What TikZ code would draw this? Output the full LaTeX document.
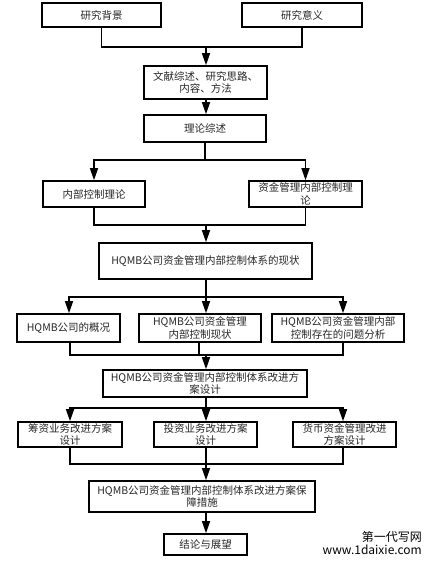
\documentclass[tikz,border=0pt]{standalone}
\usepackage{fontspec}
\setmainfont{Noto Sans CJK SC}
\usetikzlibrary{positioning, arrows.meta}

\begin{document}
\begin{tikzpicture}[x=1pt, y=-1pt,
            box/.style={draw=black, line width=1.6pt, rectangle, align=center, inner sep=1pt, font=\fontsize{10.5}{12.5}\selectfont, text=black!85},
            edge/.style={line width=1.4pt},
            arr/.style={edge, -{Triangle[length=12pt, width=8pt]}},
            wmark/.style={font=\fontsize{12}{13}\selectfont, anchor=east, inner sep=0pt}
        ]
        \useasboundingbox (0,0) rectangle (432,564);

        % Kästen
        \node[box, minimum width=119pt, minimum height=24pt] (bg) at (101.5,15) {研究背景};
        \node[box, minimum width=120pt, minimum height=24pt] (yy) at (302,15) {研究意义};
        \node[box, minimum width=123pt, minimum height=33pt] (wx) at (205.5,82.5) {文献综述、研究思路、\\内容、方法};
        \node[box, minimum width=122pt, minimum height=27pt] (ll) at (205,128.5) {理论综述};
        \node[box, minimum width=102pt, minimum height=26pt] (nk) at (94,194) {内部控制理论};
        \node[box, minimum width=113pt, minimum height=26pt] (zj) at (305.5,194) {资金管理内部控制理\\论};
        \node[box, minimum width=213pt, minimum height=36pt] (xz) at (205.5,261) {HQMB公司资金管理内部控制体系的现状};
        \node[box, minimum width=103pt, minimum height=28pt] (gk) at (68.5,328) {HQMB公司的概况};
        \node[box, minimum width=122pt, minimum height=28pt] (xk) at (200,328) {HQMB公司资金管理\\内部控制现状};
        \node[box, minimum width=132pt, minimum height=28pt] (wt) at (338,328) {HQMB公司资金管理内部\\控制存在的问题分析};
        \node[box, minimum width=204pt, minimum height=27pt] (gj) at (205,383.5) {HQMB公司资金管理内部控制体系改进方\\案设计};
        \node[box, minimum width=104pt, minimum height=25pt] (cz) at (70,434.5) {筹资业务改进方案\\设计};
        \node[box, minimum width=103pt, minimum height=25pt] (tz) at (205.5,434.5) {投资业务改进方案\\设计};
        \node[box, minimum width=103pt, minimum height=25pt] (hb) at (344.5,434.5) {货币资金管理改进\\方案设计};
        \node[box, minimum width=226pt, minimum height=31pt] (bz) at (202,496.5) {HQMB公司资金管理内部控制体系改进方案保\\障措施};
        \node[box, minimum width=83pt, minimum height=21pt] (jl) at (205.5,544.5) {结论与展望};

        \node[wmark] (wm1) at (422,537) {第一代写网};
        \node[wmark] (wm2) at (422,550) {www.1daixie.com};

        % Verzweigungen
        \coordinate (j1) at (206,47);
        \coordinate (j2) at (205,160);
        \coordinate (j3) at (206,225);
        \coordinate (j4) at (206,297);
        \coordinate (j5) at (206,355);
        \coordinate (j6) at (206,408);
        \coordinate (j7) at (206,464);

        % Verbindungen
        \draw[edge] (bg.south) |- (j1);
        \draw[edge] (yy.south) |- (j1);
        \draw[arr] (j1) -- (j1 |- wx.north);
        \draw[arr] (wx.south -| j1) -- (ll.north -| j1);

        \draw[edge] (ll.south) -- (j2);
        \draw[arr] (j2) -| (nk.north);
        \draw[arr] (j2) -| (zj.north);

        \draw[edge] (nk.south) |- (j3);
        \draw[edge] (zj.south) |- (j3);
        \draw[arr] (j3) -- (j3 |- xz.north);

        \draw[edge] (xz.south -| j4) -- (j4);
        \draw[arr] (j4) -| ([xshift=0.5pt]gk.north);
        \draw[arr] (j4) -- (j4 |- xk.north);
        \draw[arr] (j4) -| ([xshift=5pt]wt.north);

        \draw[edge] ([xshift=1.5pt]gk.south) |- (j5);
        \draw[edge] ([xshift=-1pt]xk.south) |- (j5);
        \draw[edge] ([xshift=5pt]wt.south) |- (j5);
        \draw[arr] (j5) -- (j5 |- gj.north);

        \draw[edge] (gj.south -| j6) -- (j6);
        \draw[arr] (j6) -| (cz.north);
        \draw[arr] (j6) -- (j6 |- tz.north);
        \draw[arr] (j6) -| ([xshift=-1.5pt]hb.north);

        \draw[edge] (cz.south) |- (j7);
        \draw[edge] (tz.south -| j7) -- (j7);
        \draw[edge] ([xshift=-1.5pt]hb.south) |- (j7);
        \draw[arr] (j7) -- (j7 |- bz.north);
        \draw[arr] (bz.south -| j7) -- (jl.north -| j7);

    \end{tikzpicture}
\end{document}
